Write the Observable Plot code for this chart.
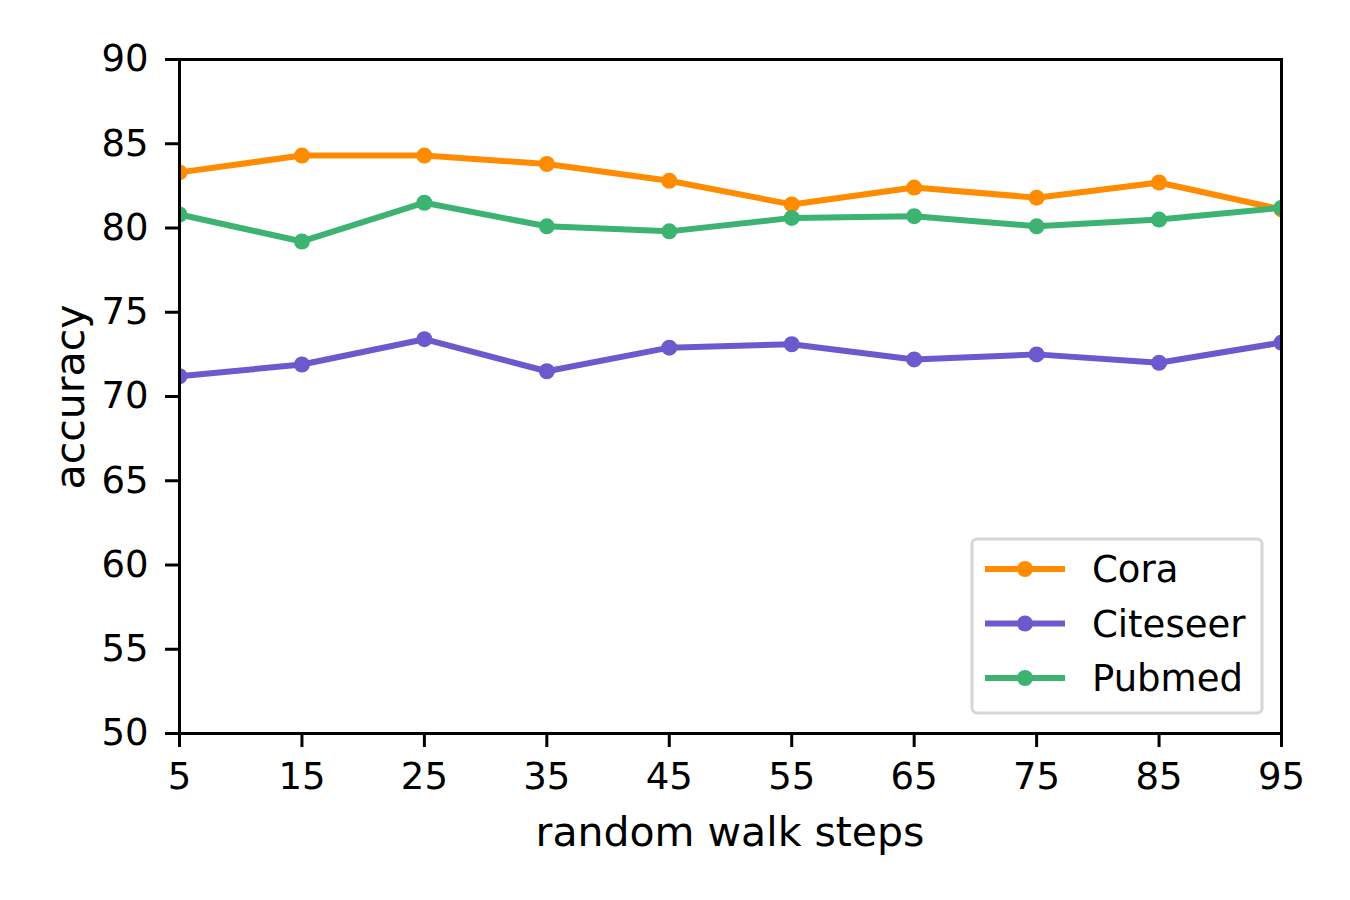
<!DOCTYPE html>
<html>
<head>
<meta charset="utf-8">
<script src="https://cdn.jsdelivr.net/npm/d3@7"></script>
<script src="https://cdn.jsdelivr.net/npm/@observablehq/plot@0.6"></script>
<style>
  html, body { margin: 0; padding: 0; background: #fff; }
  #chart { width: 1350px; height: 900px; }
</style>
</head>
<body>
<div id="chart"></div>
<script>
const steps = [5, 15, 25, 35, 45, 55, 65, 75, 85, 95];
const cora = [83.3, 84.3, 84.3, 83.8, 82.8, 81.4, 82.4, 81.8, 82.7, 81.1];
const citeseer = [71.2, 71.9, 73.4, 71.5, 72.9, 73.1, 72.2, 72.5, 72.0, 73.2];
const pubmed = [80.8, 79.2, 81.5, 80.1, 79.8, 80.6, 80.7, 80.1, 80.5, 81.2];
const seriesNames = ["Cora", "Citeseer", "Pubmed"];
const seriesColors = ["#FF8C00", "#6A5ACD", "#3CB371"];
const xTicks = [5, 15, 25, 35, 45, 55, 65, 75, 85, 95];
const yTicks = [50, 55, 60, 65, 70, 75, 80, 85, 90];
const xLabel = "random walk steps";
const yLabel = "accuracy";

const seriesValues = [cora, citeseer, pubmed];
const rows = seriesNames.map((name, i) => steps.map((s, j) => ({series: name, step: s, acc: seriesValues[i][j]})));

const font = "DejaVu Sans, sans-serif";
const marks = [];
rows.forEach((data, i) => {
  marks.push(Plot.line(data, {x: "step", y: "acc", stroke: seriesColors[i], strokeWidth: 6, clip: "frame"}));
  marks.push(Plot.dot(data, {x: "step", y: "acc", fill: seriesColors[i], r: 8, clip: "frame"}));
});
marks.push(Plot.frame({stroke: "black", strokeWidth: 3}));
marks.push(Plot.axisX({ticks: xTicks, tickFormat: d => String(d), tickSize: 14, tickPadding: 15, label: null, stroke: "black", strokeWidth: 3, fontSize: 37, color: "black"}));
marks.push(Plot.axisY({ticks: yTicks, tickFormat: d => String(d), tickSize: 14, tickPadding: 17, label: null, stroke: "black", strokeWidth: 3, fontSize: 37, color: "black"}));

const chart = Plot.plot({
  width: 1350,
  height: 900,
  marginLeft: 179,
  marginRight: 69,
  marginTop: 59,
  marginBottom: 167,
  style: {fontFamily: font, fontSize: "37px", background: "white", color: "black", overflow: "visible"},
  x: {domain: [5, 95]},
  y: {domain: [50, 90]},
  marks
});
document.getElementById("chart").appendChild(chart);

const svg = d3.select(chart);
// axis titles
svg.append("text").attr("x", 730).attr("y", 846).attr("text-anchor", "middle")
  .attr("font-family", font).attr("font-size", 41).attr("fill", "black").text(xLabel);
svg.append("text").attr("transform", "translate(84,397) rotate(-90)").attr("text-anchor", "middle")
  .attr("font-family", font).attr("font-size", 41).attr("fill", "black").text(yLabel);

// legend
const lg = svg.append("g");
lg.append("rect").attr("x", 972).attr("y", 539).attr("width", 290).attr("height", 174)
  .attr("rx", 5).attr("fill", "white").attr("fill-opacity", 0.8)
  .attr("stroke", "#d6d6d6").attr("stroke-width", 3);
seriesNames.forEach((name, i) => {
  const y = 569 + i * 54.5;
  lg.append("line").attr("x1", 985).attr("x2", 1065).attr("y1", y).attr("y2", y)
    .attr("stroke", seriesColors[i]).attr("stroke-width", 6);
  lg.append("circle").attr("cx", 1025).attr("cy", y).attr("r", 8).attr("fill", seriesColors[i]);
  lg.append("text").attr("x", 1092).attr("y", y + 13).attr("text-anchor", "start")
    .attr("font-family", font).attr("font-size", 37).attr("fill", "black").text(name);
});
</script>
</body>
</html>
